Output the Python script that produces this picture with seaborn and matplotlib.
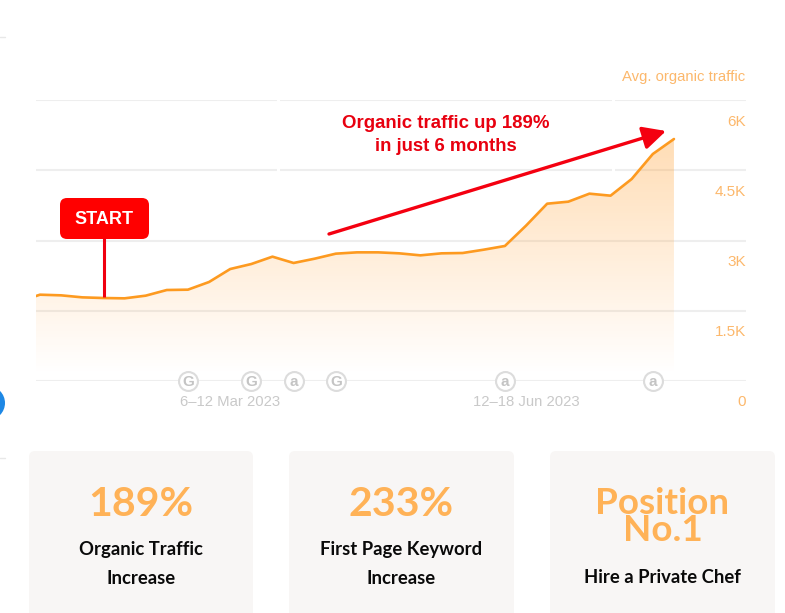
import numpy as np
import pandas as pd
import seaborn as sns
import matplotlib.pyplot as plt
from matplotlib.patches import Circle, FancyBboxPatch
from matplotlib.transforms import ScaledTranslation

# values, one point a week starting 2 Jan 2023
weeks = list(range(-1, 31))
traffic = [1694, 1843, 1829, 1786, 1772, 1765, 1822, 1943, 1950, 2114, 2391, 2498,
           2655, 2520, 2612, 2719, 2747, 2747, 2726, 2683, 2726, 2733, 2804, 2883,
           3317, 3786, 3829, 4000, 3957, 4313, 4847, 5167]
y_ticks = [0, 1500, 3000, 4500, 6000]
y_labels = ['0', '1.5K', '3K', '4.5K', '6K']
x_ticks = [9, 23]
x_labels = ['6–12 Mar 2023', '12–18 Jun 2023']
event_weeks = [7, 10, 12, 14, 22, 29]
event_letters = ['G', 'G', 'a', 'G', 'a', 'a']
card_values = ['189%', '233%', 'Position\nNo.1']
card_labels = ['Organic Traffic\nIncrease', 'First Page Keyword\nIncrease', 'Hire a Private Chef']

ORANGE = '#fd9a20'
LABEL_ORANGE = '#fcb86c'
CARD_ORANGE = '#ffb257'
RED = '#e8000f'

sns.set_theme(style='white')
plt.rcParams['font.family'] = ['Liberation Sans', 'DejaVu Sans']

W, H = 785, 613
fig = plt.figure(figsize=(W / 100, H / 100), dpi=100, facecolor='white')
ax = fig.add_axes([36 / W, 1 - 381 / H, (746 - 36) / W, (381 - 100) / H])
ax.set_facecolor('none')

xlim = (-0.19, 33.41)
df = pd.DataFrame({'week': weeks, 'traffic': traffic})

# grid, the two top lines have small gaps in the screenshot
grid_color = '#eeeeee'
for v in y_ticks:
    if v >= 4500:
        ax.hlines([v, v, v], [xlim[0], 11.35, 27.2], [11.2, 27.05, xlim[1]], color=grid_color, lw=1.5, zorder=1)
    else:
        ax.hlines(v, xlim[0], xlim[1], color=grid_color, lw=1.5, zorder=1)

# gradient under the line
poly = ax.fill_between(df['week'], df['traffic'], 0, color='none')
grad = np.zeros((256, 1, 4))
grad[..., :3] = (1.0, 0.62, 0.18)
grad[:, 0, 3] = np.linspace(0.36, 0, 256)
im = ax.imshow(grad, extent=(-1, 30, 150, 5300), origin='upper', aspect='auto', zorder=2)
im.set_clip_path(poly.get_paths()[0], transform=ax.transData)

sns.lineplot(data=df, x='week', y='traffic', color=ORANGE, linewidth=1.9, ax=ax, zorder=3)

ax.set_xlim(*xlim)
ax.set_ylim(0, 6000)
ax.set_xlabel('')
ax.set_ylabel('')
sns.despine(ax=ax, left=True, bottom=True)

ax.set_xticks(x_ticks, x_labels)
ax.tick_params(axis='x', length=0, pad=10, labelsize=10.7, labelcolor='#c9c9c9')
ax.yaxis.tick_right()
ax.set_yticks(y_ticks, y_labels)
ax.tick_params(axis='y', length=0, pad=0, labelsize=11, labelcolor=LABEL_ORANGE)
shift = ScaledTranslation(0, -20 / 100, fig.dpi_scale_trans)
for lab in ax.get_yticklabels():
    lab.set_ha('right')
    lab.set_transform(lab.get_transform() + shift)

# update markers on the baseline
ax.scatter(event_weeks, [0] * len(event_weeks), s=185, facecolor='white', edgecolor='#dcdcdc',
           linewidth=1.5, clip_on=False, zorder=4)
for w, letter in zip(event_weeks, event_letters):
    ax.text(w, 0, letter, ha='center', va='center_baseline', fontsize=11, fontweight='bold',
            color='#c4c4c4', zorder=5, clip_on=False)

# everything else sits in pixel coordinates on a full size overlay
ov = fig.add_axes([0, 0, 1, 1], zorder=5)
ov.set_xlim(0, W)
ov.set_ylim(H, 0)
ov.axis('off')

ov.text(745, 77, 'Avg. organic traffic', ha='right', va='center', fontsize=10.7, color=LABEL_ORANGE)

# start flag
ov.plot([104, 104], [238, 297], color='#f00010', lw=2.2, solid_capstyle='butt')
ov.add_patch(FancyBboxPatch((60, 198), 89, 41, boxstyle='round,pad=0,rounding_size=7',
                            facecolor='#ff0000', edgecolor='none'))
ov.text(104.5, 219.5, 'START', ha='center', va='center', fontsize=13, fontweight='bold', color='white')

# callout
ov.annotate('', xy=(666, 131), xytext=(329, 234),
            arrowprops=dict(arrowstyle='-|>,head_length=1.0,head_width=0.5', color='#f40010', lw=2.4,
                            mutation_scale=14, shrinkA=0, shrinkB=0))
ov.text(445.5, 135, 'Organic traffic up 189%\nin just 6 months', ha='center', va='center',
        fontsize=13.4, fontweight='bold', color=RED, linespacing=1.4)

# bits of the page around the chart
ov.add_patch(Circle((-12, 403), 17, facecolor='#1e88e5', edgecolor='none'))
ov.plot([0, 5], [37, 37], color='#e8e8e8', lw=1)
ov.plot([0, 5], [458, 458], color='#e8e8e8', lw=1)

# stat cards
card_x = [(29, 253), (289, 514), (550, 775)]
for (x0, x1), value, label in zip(card_x, card_values, card_labels):
    ov.add_patch(FancyBboxPatch((x0, 451), x1 - x0, 190, boxstyle='round,pad=0,rounding_size=6',
                                facecolor='#f8f6f5', edgecolor='none'))
    cx = (x0 + x1) / 2
    two_line = '\n' in value
    ov.text(cx, 517 if two_line else 504, value, ha='center', va='center', fontsize=26.5 if two_line else 29.5,
            fontweight='bold', color=CARD_ORANGE, family='Lato', linespacing=0.75)
    ov.text(cx, 564 if '\n' in label else 577.5, label, ha='center', va='center', fontsize=13.3,
            fontweight='bold', color='#0a0a0a', family='Lato', linespacing=1.8)

fig.savefig('out.png', dpi=100)
